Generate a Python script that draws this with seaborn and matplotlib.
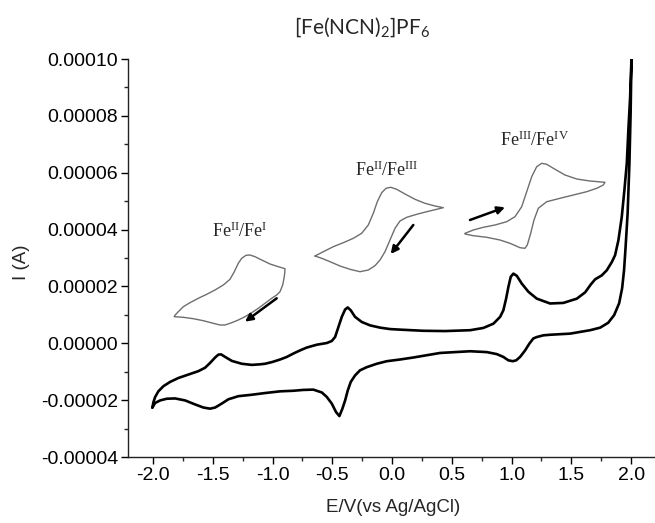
import numpy as np
import pandas as pd
import matplotlib
matplotlib.use("Agg")
import matplotlib.pyplot as plt
import seaborn as sns
from matplotlib.ticker import MultipleLocator, FormatStrFormatter

# ---------------- data ----------------
# main CV: forward (upper) branch, potential in V, current in 1e-5 A
E_up = [-2.006, -1.997, -1.983, -1.956, -1.914, -1.858, -1.788, -1.705, -1.621, -1.565,
        -1.523, -1.481, -1.454, -1.431, -1.397, -1.341, -1.258, -1.174, -1.105, -1.063,
        -1.004, -0.937, -0.881, -0.826, -0.770, -0.714, -0.630, -0.546, -0.505, -0.477,
        -0.449, -0.421, -0.393, -0.371, -0.346, -0.310, -0.254, -0.184, -0.100, -0.017,
        0.067, 0.259, 0.444, 0.653, 0.764, 0.848, 0.904, 0.931, 0.954, 0.973,
        0.993, 1.015, 1.044, 1.085, 1.141, 1.211, 1.322, 1.433, 1.546, 1.615,
        1.663, 1.699, 1.755, 1.797, 1.839, 1.866, 1.894, 1.922, 1.944, 1.964,
        1.977, 1.992, 2.003]
I_up = [-2.26, -2.07, -1.89, -1.69, -1.51, -1.36, -1.22, -1.10, -0.98, -0.86,
        -0.69, -0.50, -0.40, -0.39, -0.48, -0.62, -0.72, -0.76, -0.74, -0.72,
        -0.66, -0.57, -0.48, -0.36, -0.25, -0.15, -0.05, 0.01, 0.08, 0.22,
        0.57, 0.93, 1.19, 1.26, 1.16, 0.93, 0.75, 0.63, 0.55, 0.50,
        0.48, 0.44, 0.43, 0.46, 0.54, 0.69, 0.93, 1.16, 1.57, 1.98,
        2.34, 2.45, 2.37, 2.10, 1.81, 1.57, 1.40, 1.42, 1.57, 1.79,
        2.07, 2.25, 2.39, 2.57, 2.86, 3.10, 3.63, 4.45, 5.39, 6.33,
        7.50, 8.67, 10.0]
# reverse (lower) branch
E_down = [2.003, 1.996, 1.986, 1.971, 1.954, 1.941, 1.925, 1.900, 1.858, 1.808,
          1.741, 1.657, 1.490, 1.322, 1.266, 1.211, 1.182, 1.149, 1.113, 1.071,
          1.038, 1.010, 0.973, 0.931, 0.876, 0.792, 0.653, 0.402, 0.178, 0.067,
          -0.044, -0.128, -0.212, -0.268, -0.310, -0.346, -0.371, -0.393, -0.416, -0.441,
          -0.469, -0.505, -0.546, -0.588, -0.659, -0.742, -0.826, -0.937, -1.063, -1.174,
          -1.286, -1.370, -1.425, -1.481, -1.523, -1.579, -1.649, -1.732, -1.816, -1.885,
          -1.941, -1.983, -2.006]
I_down = [10.0, 8.10, 6.34, 4.58, 3.39, 2.57, 1.94, 1.41, 0.99, 0.72,
          0.55, 0.46, 0.34, 0.30, 0.28, 0.22, 0.17, -0.01, -0.25, -0.48,
          -0.60, -0.63, -0.60, -0.48, -0.38, -0.31, -0.28, -0.34, -0.50, -0.57,
          -0.63, -0.72, -0.84, -0.95, -1.13, -1.36, -1.66, -2.01, -2.30, -2.56,
          -2.42, -2.12, -1.89, -1.73, -1.63, -1.64, -1.67, -1.69, -1.75, -1.81,
          -1.86, -1.97, -2.12, -2.26, -2.30, -2.26, -2.15, -2.01, -1.94, -1.95,
          -2.01, -2.10, -2.26]

x_ticks = [-2.0, -1.5, -1.0, -0.5, 0.0, 0.5, 1.0, 1.5, 2.0]
y_ticks = [-0.00004, -0.00002, 0.0, 0.00002, 0.00004, 0.00006, 0.00008, 0.00010]

title_text = r"$\mathregular{[Fe(NCN)_2]PF_6}$"
x_label = "E/V(vs Ag/AgCl)"
y_label = "I (A)"

# inset sketches (local sketch units)
ins1_x = [9.3, 13.3, 18.3, 25, 33.3, 41.7, 50, 58.3, 65, 69.3, 73.3, 76.7, 81, 85, 90,
          96.7, 105, 113.3, 120, 119.7, 119, 117.7, 115, 111.7, 106.7, 100, 93.3, 86.7,
          80, 73.3, 66.7, 60, 55, 48.3, 38.3, 28.3, 18.3, 9.3]
ins1_y = [96, 91.7, 86.7, 82.7, 78.3, 74.3, 70, 65, 59.3, 51.7, 43.3, 38.3, 35.3, 35, 36.7,
          40, 44, 46.7, 48.7, 53.3, 58.3, 65, 71.7, 75, 78.3, 83.3, 88.3, 92.7,
          96.7, 100, 102.7, 105, 105, 103.3, 100.7, 98.7, 97.3, 96.7]
ins1_arrow = [(111.7, 78.3), (80, 101.7)]
ins1_label = r"$\mathregular{Fe^{II}/Fe^{I}}$"

ins2_x = [10, 18.3, 28.3, 38.3, 48.3, 56.7, 63.3, 68.3, 72.3, 76.7, 81, 85.7, 91.7, 100,
          110, 120, 130, 138.3, 131.7, 121.7, 111.7, 101.7, 95, 90, 85, 80, 75, 70,
          63.3, 55, 45, 35, 25, 16.7, 10]
ins2_y = [101, 96.7, 91.7, 87.7, 83.3, 78.3, 70, 58.3, 46.7, 37.7, 33.3, 32.3, 34.3, 39,
          44.3, 48.3, 51, 52.7, 54.3, 56.7, 59.3, 62.3, 66, 73.3, 85, 96.7, 105, 110.7,
          115, 116.7, 114.3, 111, 106.7, 103.3, 101]
ins2_arrow = [(108.3, 70), (85.7, 99)]
ins2_label = r"$\mathregular{Fe^{II}/Fe^{III}}$"

ins3_x = [10, 18.3, 28.3, 40, 51.7, 60, 66.7, 71.7, 76.7, 81.7, 86.7, 91.7, 100, 110,
          121.7, 135, 150, 148.3, 141.7, 131.7, 118.3, 105, 91.7, 83.3, 79, 75.7, 72.3,
          70, 65, 55, 45, 31.7, 18.3, 10]
ins3_y = [108.3, 105, 102.3, 100, 96.7, 91.7, 81.7, 66.7, 51.7, 41.7, 38.3, 39.3, 44.3, 50,
          54, 56, 57.3, 60, 63.3, 66.7, 70, 73.3, 76.7, 83.3, 95, 108.3, 120,
          123.3, 122.7, 118.3, 115, 112.3, 110.7, 109]
ins3_arrow = [(15, 95), (50, 82.3)]
ins3_label = r"$\mathregular{Fe^{III}/Fe^{IV}}$"

# ---------------- figure ----------------
sns.set_style("ticks")
plt.rcParams["font.family"] = ["Liberation Sans", "DejaVu Sans"]
plt.rcParams["axes.linewidth"] = 1.0

W, H = 655, 523
fig = plt.figure(figsize=(W / 100, H / 100), dpi=100)
ax = fig.add_axes([128 / W, (H - 457) / H, (W - 128) / W, (457 - 59) / H])

df = pd.DataFrame({
    "E": E_up + E_down,
    "I": [v * 1e-5 for v in I_up + I_down],
})
sns.lineplot(data=df, x="E", y="I", sort=False, estimator=None, ax=ax,
             color="black", lw=1.9, solid_joinstyle="round", solid_capstyle="round")

ax.set_xlim(-2.21, 2.2)
ax.set_ylim(-0.00004, 0.0001)
ax.set_xticks(x_ticks)
ax.set_yticks(y_ticks)
ax.xaxis.set_minor_locator(MultipleLocator(0.25))
ax.yaxis.set_minor_locator(MultipleLocator(0.00001))
ax.xaxis.set_major_formatter(FormatStrFormatter("%.1f"))
ax.yaxis.set_major_formatter(FormatStrFormatter("%.5f"))
ax.tick_params(axis="both", which="major", direction="out", length=5, width=1,
               labelsize=14, colors="black", pad=2)
ax.tick_params(axis="both", which="minor", direction="out", length=3, width=1)
ax.set_xlabel("")
ax.set_ylabel("")
sns.despine(ax=ax)
ax.spines["left"].set_color("#222222")
ax.spines["bottom"].set_color("#222222")

fig.text(393 / W, 1 - 507 / H, x_label, ha="center", va="center", fontsize=13.5)
fig.text(22 / W, 1 - 262 / H, y_label, ha="center", va="center", fontsize=13.5,
         rotation=90)
fig.text(362 / W, 1 - 27 / H, title_text, ha="center", va="center", fontsize=15,
         family=["Lato", "DejaVu Sans"])

# ---------------- insets ----------------
def draw_inset(box, xs, ys, arrow, label, label_pos):
    left, top, w, h = box
    iax = fig.add_axes([left / W, 1 - (top + h) / H, w / W, h / H])
    iax.patch.set_alpha(0)
    d = pd.DataFrame({"x": xs, "y": ys})
    sns.lineplot(data=d, x="x", y="y", sort=False, estimator=None, ax=iax,
                 color="#6e6e6e", lw=1.0, solid_joinstyle="round")
    iax.annotate("", xy=arrow[1], xytext=arrow[0],
                 arrowprops=dict(arrowstyle="-|>", color="black", lw=1.8,
                                 mutation_scale=11, shrinkA=0, shrinkB=0))
    iax.text(label_pos[0], label_pos[1], label, ha="center", va="center",
             fontsize=13, family=["Liberation Serif", "DejaVu Serif"])
    iax.set_xlim(0, w)
    iax.set_ylim(h, 0)
    iax.axis("off")

draw_inset((165, 220, 130, 110), ins1_x, ins1_y, ins1_arrow, ins1_label, (75, 11.7))
draw_inset((305, 155, 150, 125), ins2_x, ins2_y, ins2_arrow, ins2_label, (81.7, 15))
draw_inset((455, 125, 160, 130), ins3_x, ins3_y, ins3_arrow, ins3_label, (80, 15))

fig.savefig("out.png", dpi=100)
